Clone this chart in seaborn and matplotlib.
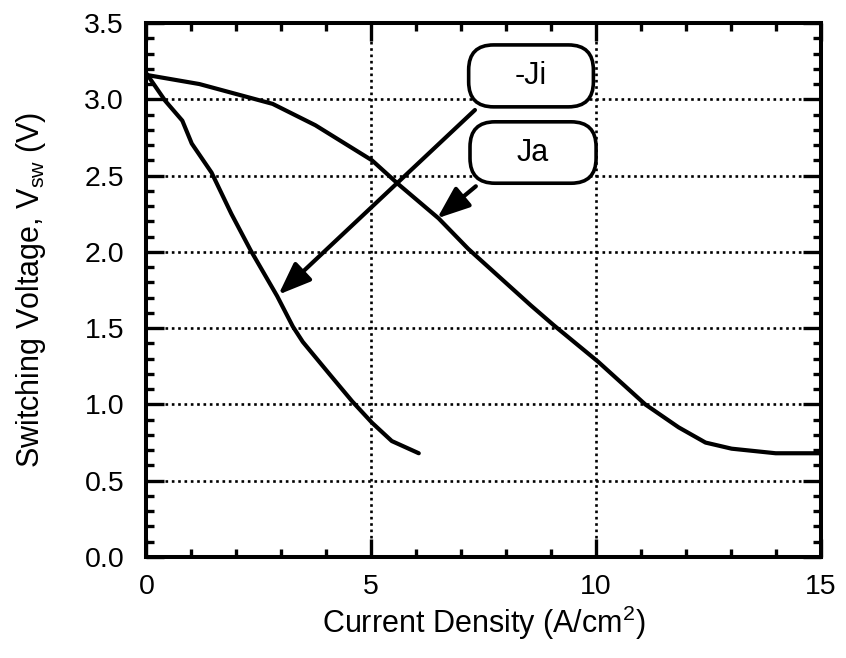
import matplotlib
matplotlib.use("Agg")
import matplotlib.pyplot as plt
from matplotlib.patches import FancyBboxPatch
from matplotlib.ticker import MultipleLocator
import pandas as pd
import seaborn as sns

# Switching voltage versus current density for the two current components
ja_current = [0.0, 1.18, 2.81, 3.76, 5.02, 5.62, 6.5, 7.16, 8.55, 9.06, 10.05,
              11.1, 11.84, 12.44, 13.02, 14.0, 15.0]
ja_voltage = [3.16, 3.10, 2.97, 2.83, 2.60, 2.44, 2.22, 2.02, 1.65, 1.52, 1.28,
              1.0, 0.85, 0.75, 0.71, 0.68, 0.68]

ji_current = [0.0, 0.42, 0.80, 1.01, 1.45, 1.89, 2.32, 2.91, 3.26, 3.48, 4.07,
              4.58, 5.02, 5.46, 6.06]
ji_voltage = [3.17, 2.99, 2.86, 2.71, 2.52, 2.25, 2.01, 1.71, 1.51, 1.41, 1.20,
              1.02, 0.88, 0.76, 0.68]

series_labels = ["-Ji", "Ja"]
x_ticks = [0, 5, 10, 15]
y_ticks = [0.0, 0.5, 1.0, 1.5, 2.0, 2.5, 3.0, 3.5]

df = pd.concat([
    pd.DataFrame({"J": ja_current, "V": ja_voltage, "series": "Ja"}),
    pd.DataFrame({"J": ji_current, "V": ji_voltage, "series": "-Ji"}),
], ignore_index=True)

sns.set_theme(style="ticks")
plt.rcParams["font.family"] = ["Liberation Sans", "DejaVu Sans"]
plt.rcParams["mathtext.fontset"] = "custom"
plt.rcParams["mathtext.rm"] = "Liberation Sans"
for key in ["text.color", "axes.labelcolor", "xtick.color", "ytick.color",
            "xtick.labelcolor", "ytick.labelcolor"]:
    plt.rcParams[key] = "black"

fig = plt.figure(figsize=(8.46, 6.58), dpi=100)
ax = fig.add_axes([0.173, 0.1535, 0.797, 0.8115])

sns.lineplot(data=df, x="J", y="V", units="series", estimator=None, sort=False,
             color="black", linewidth=3.0, ax=ax, zorder=3, legend=False)

ax.set_xlim(0, 15)
ax.set_ylim(0, 3.5)
ax.set_xticks(x_ticks)
ax.set_xticklabels([str(t) for t in x_ticks])
ax.set_yticks(y_ticks)
ax.set_yticklabels([f"{t:.1f}" for t in y_ticks])
ax.xaxis.set_minor_locator(MultipleLocator(1))
ax.yaxis.set_minor_locator(MultipleLocator(0.1))

ax.tick_params(which="both", direction="in", top=True, right=True,
               color="black", labelcolor="black", width=2.4)
ax.tick_params(which="major", length=13, labelsize=20.5, pad=12)
ax.tick_params(which="minor", length=6)
ax.tick_params(axis="y", which="major", pad=16)

for side in ax.spines.values():
    side.set_linewidth(2.9)
    side.set_color("black")

ax.grid(True, which="major", linestyle=(0, (1, 1.4)), linewidth=1.9,
        color="black", zorder=1)
ax.set_axisbelow(True)

ax.set_xlabel("Current Density (A/cm$^{\\mathregular{2}}$)", fontsize=22,
              labelpad=3, color="black")
ax.set_ylabel("Switching Voltage, V$_{\\mathregular{sw}}$ (V)", fontsize=22,
              labelpad=26, color="black")

# Rounded label boxes for the two curves
aspect = (0.797 * 846) / (0.8115 * 658)
boxes = {"-Ji": (0.478, 0.843, 0.185, 0.116), "Ja": (0.480, 0.700, 0.187, 0.115)}
for name in series_labels:
    bx, by, bw, bh = boxes[name]
    patch = FancyBboxPatch((bx, by), bw, bh, transform=ax.transAxes,
                           boxstyle="round,pad=0,rounding_size=0.037",
                           mutation_aspect=aspect, facecolor="white",
                           edgecolor="black", linewidth=2.6, zorder=4)
    ax.add_patch(patch)
    ax.text(bx + bw / 2, by + bh / 2, name, transform=ax.transAxes,
            ha="center", va="center", fontsize=22, color="black", zorder=5)

arrow_style = dict(arrowstyle="-|>,head_length=0.9,head_width=0.35",
                   color="black", linewidth=3.0, shrinkA=0, shrinkB=0,
                   mutation_scale=22)
ax.annotate("", xy=(2.94, 1.72), xytext=(7.31, 2.93),
            arrowprops=arrow_style, zorder=4)
ax.annotate("", xy=(6.47, 2.22), xytext=(7.33, 2.43),
            arrowprops=arrow_style, zorder=4)

fig.savefig("out.png", dpi=100)
